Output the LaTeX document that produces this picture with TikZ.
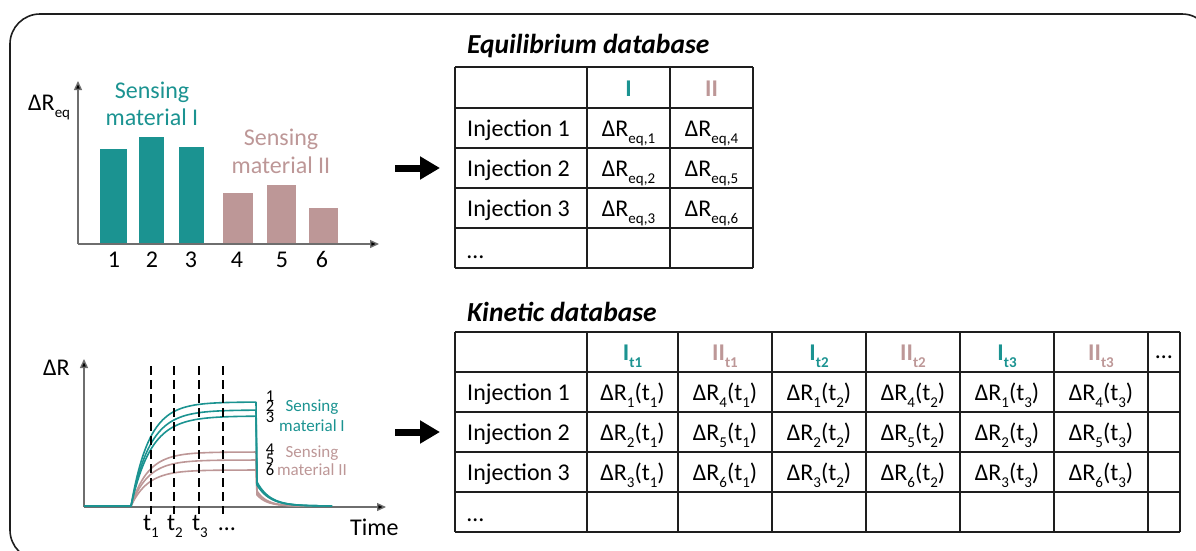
\documentclass[tikz,border=0pt]{standalone}
\usepackage{fontspec}
\setmainfont{Carlito}
\usetikzlibrary{arrows.meta}
\definecolor{tealc}{RGB}{27,147,145}
\definecolor{rosec}{RGB}{189,151,151}
\definecolor{axisc}{RGB}{110,110,110}
\definecolor{gridc}{RGB}{30,30,30}
\newcommand{\lo}[1]{\raisebox{-0.3em}{\fontsize{15}{15}\selectfont #1}}
\newcommand{\bigtxt}{\fontsize{24}{28}\selectfont}
\newcommand{\midtxt}{\fontsize{17}{19}\selectfont}
\newcommand{\smalltxt}{\fontsize{16.5}{16.5}\selectfont}
\tikzset{
  txt/.style={inner sep=0pt, font=\bigtxt, anchor=base},
  txtw/.style={txt, anchor=base west},
  axisline/.style={draw=axisc, line width=1.4pt, -{Triangle[length=9pt,width=8pt,fill=black]}},
  gridline/.style={draw=gridc, line width=1.5pt},
  curve/.style={line width=1.6pt, line join=round},
  tline/.style={line width=2.8pt, dash pattern=on 9pt off 5pt},
  bigarrow/.style={line width=7pt, -{Triangle[length=20pt,width=22pt]}},
  ttl/.style={inner sep=0pt, anchor=base west, font=\fontsize{27.5}{30}\selectfont\bfseries\itshape},
}
\begin{document}
\begin{tikzpicture}[x=1pt,y=-1pt]
\useasboundingbox (0,0) rectangle (1196,550);
% outer frame
\draw[line width=1.6pt, rounded corners=30pt, draw=gridc] (10,14) rectangle (1212,560);

% ---------------- top bar chart ----------------
\fill[tealc] (100,149) rectangle (127,244);
\fill[tealc] (139,137) rectangle (164,244);
\fill[tealc] (179,147) rectangle (204,244);
\fill[rosec] (223,193) rectangle (253,244);
\fill[rosec] (267,185) rectangle (296,244);
\fill[rosec] (309,208) rectangle (338,244);
\coordinate (o1) at (78,244);
\coordinate (y1) at (78,81);
\coordinate (x1) at (379,244);
\draw[axisline] (o1) -- (y1);
\draw[axisline] (o1) -- (x1);
\node[txtw] (dreq) at (28,110) {ΔR\lo{eq}};
\foreach \xx/\lab in {114/1,152/2,191/3,237/4,282/5,322/6}
  \node[txt] (n\lab) at (\xx,267) {\lab};
\node[txt, text=tealc] (sI1) at (152,98) {Sensing};
\node[txt, text=tealc] (sI2) at (152,125) {material I};
\node[txt, text=rosec] (sII1) at (281,145) {Sensing};
\node[txt, text=rosec] (sII2) at (281,173) {material II};

% ---------------- bottom kinetic chart ----------------
\coordinate (o2) at (84,507);
\coordinate (y2) at (84,359);
\coordinate (x2) at (386,507);
\draw[axisline] (o2) -- (y2);
\draw[axisline] (o2) -- (x2);
% rose curves
\foreach \A/\S/\tau in {54/15/17, 46/13/17, 36/11/17}{
  \draw[curve, rosec] (84,506) -- (131,506)
    -- plot[domain=131:256, samples=60] (\x, {506 - \A*(1-exp(-(\x-131)/\tau))})
    -- (257,{506-\S})
    -- plot[domain=257:325, samples=40] (\x, {506 - \S*exp(-(\x-257)/10)});
}
% teal curves
\foreach \A/\S/\tau in {104/24/18, 96/22/19, 90/21/20}{
  \draw[curve, tealc] (84,506) -- (131,506)
    -- plot[domain=131:256, samples=60] (\x, {506 - \A*(1-exp(-(\x-131)/\tau))})
    -- (257,{506-\S})
    -- plot[domain=257:332, samples=40] (\x, {506 - \S*exp(-(\x-257)/13)});
}
% time markers
\foreach \xx/\nm in {151/a,174/b,199/c,223/d}{
  \coordinate (dt\nm) at (\xx,366);
  \coordinate (db\nm) at (\xx,514);
  \draw[tline] (dt\nm) -- (db\nm);
}
\node[txt] (t1) at (151,530) {t\lo{1}};
\node[txt] (t2) at (175,530) {t\lo{2}};
\node[txt] (t3) at (200,530) {t\lo{3}};
\node[txt] (tdots) at (227,530) {…};
\node[txtw] (time) at (350,535) {Time};
\node[txtw] (dr) at (43,375) {ΔR};
\foreach \yy/\lab in {401/1,411.5/2,422/3}
  \node[inner sep=0pt, anchor=base, font=\smalltxt] (c\lab) at (270,\yy) {\lab};
\foreach \yy/\lab in {454.5/4,464.5/5,475/6}
  \node[inner sep=0pt, anchor=base, font=\smalltxt] (c\lab) at (270,\yy) {\lab};
\node[inner sep=0pt, anchor=base, font=\midtxt, text=tealc] (ksI1) at (312,411.5) {Sensing};
\node[inner sep=0pt, anchor=base, font=\midtxt, text=tealc] (ksI2) at (312,431.5) {material I};
\node[inner sep=0pt, anchor=base, font=\midtxt, text=rosec] (ksII1) at (312,457) {Sensing};
\node[inner sep=0pt, anchor=base, font=\midtxt, text=rosec] (ksII2) at (312,475.5) {material II};

% ---------------- arrows ----------------
\coordinate (a1s) at (395,168);
\coordinate (a1e) at (440,168);
\draw[bigarrow] (a1s) -- (a1e);
\coordinate (a2s) at (395,432);
\coordinate (a2e) at (440,432);
\draw[bigarrow] (a2s) -- (a2e);

% ---------------- equilibrium table ----------------
\node[ttl] (eqtitle) at (467,53) {Equilibrium database};
\foreach \yy in {67,108,148,188,228,268}
  \draw[gridline] (455,\yy) -- (753,\yy);
\foreach \xx in {455,587,670,753}
  \draw[gridline] (\xx,67) -- (\xx,268);
\node[txt, text=tealc, font=\bigtxt\bfseries] (eI) at (628.5,96) {I};
\node[txt, text=rosec, font=\bigtxt\bfseries] (eII) at (711.5,96) {II};
\foreach \r/\yy in {1/136,2/176,3/216}{
  \node[txtw] (einj\r) at (467,\yy) {Injection \r};
}
\node[txt] (e11) at (628.5,136) {ΔR\lo{eq,1}};
\node[txt] (e12) at (711.5,136) {ΔR\lo{eq,4}};
\node[txt] (e21) at (628.5,176) {ΔR\lo{eq,2}};
\node[txt] (e22) at (711.5,176) {ΔR\lo{eq,5}};
\node[txt] (e31) at (628.5,216) {ΔR\lo{eq,3}};
\node[txt] (e32) at (711.5,216) {ΔR\lo{eq,6}};
\node[txtw] (edots) at (467,258) {…};

% ---------------- kinetic table ----------------
\node[ttl] (kintitle) at (467,321) {Kinetic database};
\foreach \yy in {332,372,412,452,492,532}
  \draw[gridline] (455,\yy) -- (1180,\yy);
\foreach \xx in {455,587,678,772,866,960,1054,1148,1180}
  \draw[gridline] (\xx,332) -- (\xx,532);
\node[txt, text=tealc, font=\bigtxt\bfseries] (kh1) at (632.5,360) {I\lo{t1}};
\node[txt, text=rosec, font=\bigtxt\bfseries] (kh2) at (725,360) {II\lo{t1}};
\node[txt, text=tealc, font=\bigtxt\bfseries] (kh3) at (819,360) {I\lo{t2}};
\node[txt, text=rosec, font=\bigtxt\bfseries] (kh4) at (913,360) {II\lo{t2}};
\node[txt, text=tealc, font=\bigtxt\bfseries] (kh5) at (1007,360) {I\lo{t3}};
\node[txt, text=rosec, font=\bigtxt\bfseries] (kh6) at (1101,360) {II\lo{t3}};
\node[txt] (kh7) at (1164,358) {…};
\foreach \r/\yy/\a/\b in {1/400/1/4, 2/440/2/5, 3/480/3/6}{
  \node[txtw] (kinj\r) at (467,\yy) {Injection \r};
  \node[txt] (k\r a) at (632.5,\yy) {ΔR\lo{\a}(t\lo{1})};
  \node[txt] (k\r b) at (725,\yy) {ΔR\lo{\b}(t\lo{1})};
  \node[txt] (k\r c) at (819,\yy) {ΔR\lo{\a}(t\lo{2})};
  \node[txt] (k\r d) at (913,\yy) {ΔR\lo{\b}(t\lo{2})};
  \node[txt] (k\r e) at (1007,\yy) {ΔR\lo{\a}(t\lo{3})};
  \node[txt] (k\r f) at (1101,\yy) {ΔR\lo{\b}(t\lo{3})};
}
\node[txtw] (kdots) at (467,521) {…};
\end{tikzpicture}
\end{document}
